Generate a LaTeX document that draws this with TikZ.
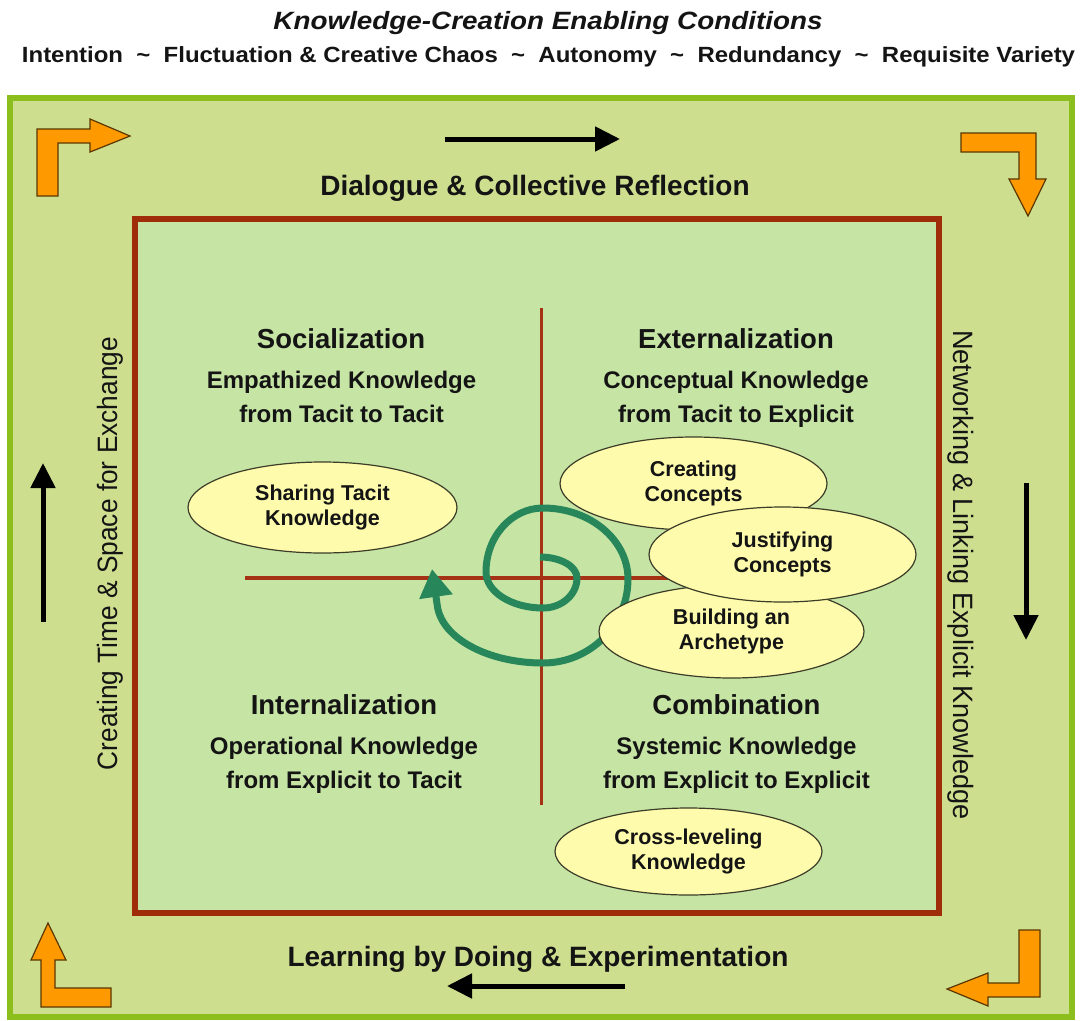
\documentclass[tikz,border=0pt]{standalone}
\usepackage{fontspec}
\setmainfont{Liberation Sans}
\usetikzlibrary{shapes.geometric,arrows.meta}
\definecolor{outerfill}{RGB}{205,223,143}
\definecolor{outerline}{RGB}{140,190,30}
\definecolor{innerfill}{RGB}{198,228,164}
\definecolor{innerline}{RGB}{160,45,10}
\definecolor{crossline}{RGB}{165,50,20}
\definecolor{spiralgreen}{RGB}{40,135,90}
\definecolor{ellfill}{RGB}{254,252,172}
\definecolor{ellline}{RGB}{60,60,40}
\definecolor{orangefill}{RGB}{255,153,0}
\definecolor{orangeline}{RGB}{90,55,0}
\definecolor{txt}{RGB}{20,20,20}
\begin{document}
\begin{tikzpicture}[x=1pt,y=-1pt,
  headtxt/.style={font=\fontsize{27.5}{33}\selectfont\bfseries, anchor=base, text=txt, inner sep=0},
  subtxt/.style={font=\fontsize{24}{29}\selectfont\bfseries, anchor=base, text=txt, inner sep=0},
  bandtxt/.style={font=\fontsize{28}{33}\selectfont\bfseries, anchor=base, text=txt, inner sep=0},
  ell/.style={ellipse, draw=ellline, line width=1.2, fill=ellfill, inner sep=0, align=center,
     font=\fontsize{21.5}{25.5}\selectfont\bfseries, text=txt},
  cornerarrow/.style={fill=orangefill, draw=orangeline, line width=1.2, line join=miter},
  blackarrow/.style={draw=black, line width=5, -{Triangle[length=25pt,width=24pt]}},
  crossstyle/.style={draw=crossline, line width=3.2},
  spiralstyle/.style={draw=spiralgreen, line width=7, line cap=butt,
     -{Triangle[length=28pt,width=32pt]}}
]
\useasboundingbox (0,0) rectangle (1080,1021);
\fill[white] (0,0) rectangle (1080,1021);

% titles
\node[anchor=base, inner sep=0, text=txt] (title) at (548,29)
  {\resizebox{549pt}{\height}{\fontsize{25}{30}\selectfont\bfseries\itshape Knowledge-Creation Enabling Conditions}};
\node[anchor=base, inner sep=0, text=txt] (cond) at (548.5,62)
  {\resizebox{1053pt}{\height}{\fontsize{22}{26}\selectfont\bfseries Intention \ \textasciitilde\ \ Fluctuation \& Creative Chaos \ \textasciitilde\ \ Autonomy \ \textasciitilde\ \ Redundancy \ \textasciitilde\ \ Requisite Variety}};

% frames
\draw[draw=outerline, line width=6, fill=outerfill] (10,98) rectangle (1072,1017);
\draw[draw=innerline, line width=6, fill=innerfill] (135,219) rectangle (939,913);

% corner arrows
\draw[cornerarrow] (37,196) -- (37,129) -- (90,129) -- (90,119) -- (130,136) -- (90,152) -- (90,143) -- (58,143) -- (58,196) -- cycle;
\draw[cornerarrow] (961,133) -- (1036,133) -- (1036,179) -- (1046,179) -- (1028,216) -- (1009,179) -- (1019,179) -- (1019,152) -- (961,152) -- cycle;
\draw[cornerarrow] (48,923) -- (66,960) -- (55,960) -- (55,988) -- (111,988) -- (111,1007) -- (41,1007) -- (41,960) -- (31,960) -- cycle;
\draw[cornerarrow] (1019,930) -- (1040,930) -- (1040,997) -- (988,997) -- (988,1006) -- (947,989) -- (988,973) -- (988,983) -- (1019,983) -- cycle;

% black arrows
\coordinate (ta1) at (445,139); \coordinate (ta2) at (620,139);
\coordinate (la1) at (43,622);  \coordinate (la2) at (43,463);
\coordinate (ra1) at (1026,483); \coordinate (ra2) at (1026,640);
\coordinate (ba1) at (625,986); \coordinate (ba2) at (447,986);
\draw[blackarrow] (ta1) -- (ta2);
\draw[blackarrow] (la1) -- (la2);
\draw[blackarrow] (ra1) -- (ra2);
\draw[blackarrow] (ba1) -- (ba2);

% band labels
\node[bandtxt] (dialogue) at (535,195) {Dialogue \& Collective Reflection};
\node[bandtxt] (learning) at (538,966) {Learning by Doing \& Experimentation};
\node[rotate=90, anchor=base, inner sep=0, text=txt] (creating) at (117,553.5)
  {\resizebox{433pt}{\height}{\fontsize{28}{33}\selectfont Creating Time \& Space for Exchange}};
\node[rotate=-90, anchor=base, inner sep=0, text=txt] (networking) at (953,575)
  {\resizebox{490pt}{\height}{\fontsize{28}{33}\selectfont Networking \& Linking Explicit Knowledge}};

% cross
\coordinate (vt) at (541.5,308); \coordinate (vb) at (541.5,805);
\coordinate (hl) at (245,578);   \coordinate (hr) at (700,578);
\draw[crossstyle] (vt) -- (vb);
\draw[crossstyle] (hl) -- (hr);

% spiral
\coordinate (sp0) at (540,557);
\coordinate (sp1) at (432,569);
\draw[spiralstyle] (sp0)
  arc[start angle=-90, end angle=0,   x radius=37,  y radius=21]
  arc[start angle=0,   end angle=90,  x radius=34,  y radius=30]
  arc[start angle=90,  end angle=180, x radius=57,  y radius=36]
  arc[start angle=180, end angle=270, x radius=57,  y radius=64]
  arc[start angle=270, end angle=360, x radius=85,  y radius=71]
  arc[start angle=0,   end angle=90,  x radius=85,  y radius=84]
  arc[start angle=90,  end angle=175, x radius=106, y radius=62]
  -- (sp1);

% quadrant labels
\node[headtxt] (soc) at (341,348) {Socialization};
\node[subtxt] (soc2) at (341.5,388) {Empathized Knowledge};
\node[subtxt] (soc3) at (341.5,422) {from Tacit to Tacit};

\node[headtxt] (ext) at (736,348) {Externalization};
\node[subtxt] (ext2) at (736,388) {Conceptual Knowledge};
\node[subtxt] (ext3) at (736,422) {from Tacit to Explicit};

\node[headtxt] (int) at (344,714) {Internalization};
\node[subtxt] (int2) at (344,754) {Operational Knowledge};
\node[subtxt] (int3) at (344,788) {from Explicit to Tacit};

\node[headtxt] (com) at (736.5,714) {Combination};
\node[subtxt] (com2) at (736.5,754) {Systemic Knowledge};
\node[subtxt] (com3) at (736.5,788) {from Explicit to Explicit};

% ellipses
\node[ell, minimum width=269, minimum height=91] (share) at (322.5,507.5) {Sharing Tacit\\Knowledge};
\node[ell, minimum width=267, minimum height=93] (concepts) at (693.5,483.5) {Creating\\Concepts};
\node[ell, minimum width=265, minimum height=93] (archetype) at (731.5,631.5) {Building an\\Archetype};
\node[ell, minimum width=267, minimum height=95] (justify) at (782.5,554.5) {Justifying\\Concepts};
\node[ell, minimum width=267, minimum height=87] (cross) at (688.5,851.5) {Cross-leveling\\Knowledge};
\end{tikzpicture}
\end{document}
